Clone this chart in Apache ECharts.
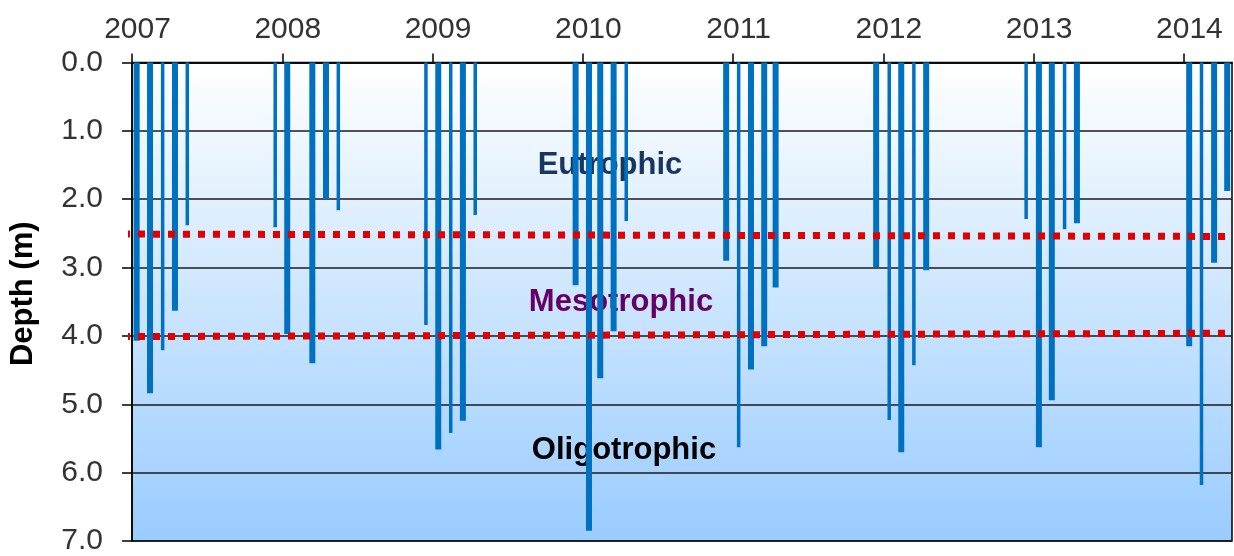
<!DOCTYPE html>
<html>
<head>
<meta charset="utf-8">
<script src="https://cdn.jsdelivr.net/npm/echarts@6/dist/echarts.min.js"></script>
<style>
html,body{margin:0;padding:0;background:#fff;}
#chart{width:1234px;height:556px;}
</style>
</head>
<body>
<div id="chart"></div>
<script>
// Year tick labels (top axis)
const years = [2007, 2008, 2009, 2010, 2011, 2012, 2013, 2014];
// Sampling dates (decimal years) and Secchi depths (m) — thick bars
const thickBars = [
  [2007.031, 4.07], [2007.120, 4.84], [2007.286, 3.63],
  [2008.033, 3.97], [2008.200, 4.40], [2008.291, 2.00],
  [2009.038, 5.66], [2009.202, 5.24],
  [2009.952, 3.26], [2010.041, 6.85], [2010.116, 4.62], [2010.205, 3.93],
  [2010.954, 2.90], [2011.119, 4.49], [2011.207, 4.15], [2011.283, 3.29],
  [2011.952, 2.99], [2012.119, 5.70], [2012.285, 3.04],
  [2013.035, 5.63], [2013.121, 4.94], [2013.288, 2.35],
  [2014.035, 4.15], [2014.201, 2.93], [2014.288, 1.88]
];
// Thin bars
const thinBars = [
  [2007.204, 4.21], [2007.368, 2.38],
  [2007.953, 2.41], [2008.373, 2.16],
  [2008.956, 3.84], [2009.121, 5.42], [2009.284, 2.23],
  [2010.289, 2.32],
  [2011.037, 5.63],
  [2012.039, 5.23], [2012.203, 4.43],
  [2012.950, 2.29], [2013.206, 2.44],
  [2014.117, 6.18]
];
// Trophic boundaries (dotted red)
const eutroLine = [[2006.94, 2.51], [2014.32, 2.545]];
const mesoLine = [[2006.94, 4.01], [2014.32, 3.96]];
const zoneNames = ['Eutrophic', 'Mesotrophic', 'Oligotrophic'];

const FONT = '"Liberation Sans", Arial, sans-serif';
const chart = echarts.init(document.getElementById('chart'), null, {renderer: 'canvas'});

function barRenderer(w) {
  return function (params, api) {
    const x = api.value(0), d = api.value(1);
    const p0 = api.coord([x, 0]);
    const p1 = api.coord([x, d]);
    return {
      type: 'rect',
      shape: {x: p0[0] - w / 2, y: p0[1], width: w, height: p1[1] - p0[1]},
      style: {fill: '#0070C0'}
    };
  };
}

chart.setOption({
  animation: false,
  backgroundColor: '#fff',
  grid: {
    left: 131, right: 2, top: 62.5, bottom: 12.5,
    show: true,
    borderColor: '#000',
    borderWidth: 1.5,
    backgroundColor: {
      type: 'linear', x: 0, y: 0, x2: 0, y2: 1,
      colorStops: [{offset: 0, color: '#ffffff'}, {offset: 1, color: '#99CCFF'}]
    }
  },
  xAxis: {
    type: 'value',
    position: 'top',
    min: years[0],
    max: 2014.32,
    interval: 1,
    axisLine: {show: true, lineStyle: {color: '#000', width: 1.5}},
    axisTick: {show: true, inside: false, length: 9, lineStyle: {color: '#000', width: 1.5}},
    splitLine: {show: false},
    axisLabel: {
      color: '#333', fontSize: 30, fontFamily: FONT, margin: 18,
      padding: [0, 0, 0, 11],
      showMaxLabel: false,
      formatter: v => years.indexOf(Math.round(v)) >= 0 ? String(Math.round(v)) : ''
    }
  },
  yAxis: {
    type: 'value',
    inverse: true,
    min: 0, max: 7, interval: 1,
    name: 'Depth (m)',
    nameLocation: 'middle',
    nameRotate: 90,
    nameGap: 93,
    nameTextStyle: {fontSize: 31, fontWeight: 'bold', color: '#000', fontFamily: FONT, padding: [0, 0, 0, 16]},
    axisLine: {show: true, lineStyle: {color: '#000', width: 1.5}},
    axisTick: {show: true, inside: false, length: 10, lineStyle: {color: '#000', width: 1.5}},
    splitLine: {show: true, lineStyle: {color: '#1a1a1a', width: 1.5}},
    axisLabel: {
      color: '#333', fontSize: 30, fontFamily: FONT, margin: 29,
      formatter: v => v.toFixed(1)
    }
  },
  series: [
    {type: 'custom', name: 'thick', data: thickBars, renderItem: barRenderer(6), z: 3},
    {type: 'custom', name: 'thin', data: thinBars, renderItem: barRenderer(3.5), z: 3},
    {type: 'line', data: eutroLine, symbol: 'none', clip: false, z: 4,
     lineStyle: {color: '#E00000', width: 7, type: [7, 8]}},
    {type: 'line', data: mesoLine, symbol: 'none', clip: false, z: 4,
     lineStyle: {color: '#E00000', width: 7, type: [7, 8]}}
  ],
  graphic: [
    {type: 'text', x: 610, y: 165, z: 1,
     style: {text: zoneNames[0], font: 'bold 31px ' + FONT, fill: '#17375E', align: 'center', verticalAlign: 'middle'}},
    {type: 'text', x: 621, y: 302, z: 1,
     style: {text: zoneNames[1], font: 'bold 31px ' + FONT, fill: '#660066', align: 'center', verticalAlign: 'middle'}},
    {type: 'text', x: 624, y: 450, z: 1,
     style: {text: zoneNames[2], font: 'bold 31px ' + FONT, fill: '#000', align: 'center', verticalAlign: 'middle'}}
  ]
});
</script>
</body>
</html>
